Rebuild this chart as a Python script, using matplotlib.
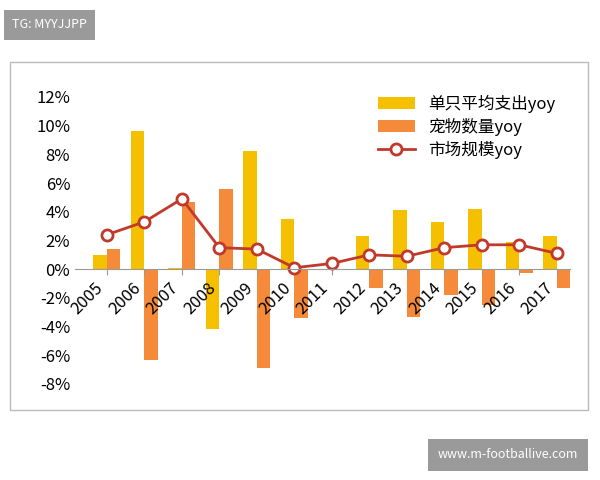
import matplotlib.pyplot as plt
import numpy as np
from matplotlib.patches import Rectangle

plt.rcParams['font.family'] = ['Noto Sans CJK SC', 'DejaVu Sans']

years = [str(y) for y in range(2005, 2018)]
avg_spend = [1.0, 9.6, 0.1, -4.2, 8.2, 3.5, 0.0, 2.3, 4.1, 3.3, 4.2, 1.9, 2.3]
pet_count = [1.4, -6.3, 4.7, 5.6, -6.9, -3.4, 0.0, -1.3, -3.3, -1.8, -2.5, -0.3, -1.3]
market = [2.4, 3.3, 4.9, 1.5, 1.4, 0.1, 0.4, 1.0, 0.9, 1.5, 1.7, 1.7, 1.1]
yticks = [-8, -6, -4, -2, 0, 2, 4, 6, 8, 10, 12]

fig = plt.figure(figsize=(6, 4.8), dpi=100)
fig.patches.append(Rectangle((10 / 600, 1 - 410 / 480), 578 / 600, 348 / 480,
                             transform=fig.transFigure, fill=False,
                             edgecolor="#bbbbbb", lw=1))
ax = fig.add_axes([0.125, 0.2, 0.825, 0.598])
x = np.arange(len(years))
w = 0.36
b1 = ax.bar(x - w / 2, avg_spend, w, color="#F5C000", label="单只平均支出yoy")
b2 = ax.bar(x + w / 2, pet_count, w, color="#F58A3A", label="宠物数量yoy")
l1, = ax.plot(x, market, color="#C0392B", lw=2, marker="o", ms=8,
              mfc="white", mec="#C0392B", mew=2, label="市场规模yoy")

ax.set_xlim(-0.85, 12.35)
ax.set_ylim(-8, 12)
ax.set_yticks(yticks)
ax.set_yticklabels([f"{v}%" for v in yticks], fontsize=12)
for s in ["top", "right", "left"]:
    ax.spines[s].set_visible(False)
ax.spines["bottom"].set_position(("data", 0))
ax.spines["bottom"].set_color("#999999")
ax.tick_params(axis="y", length=0)
ax.tick_params(axis="x", length=4, color="#999999")
ax.set_xticks(x)
ax.set_xticklabels(years, rotation=45, ha="right", fontsize=12)
ax.legend(handles=[b1, b2, l1], loc="upper right", frameon=False, fontsize=12,
          bbox_to_anchor=(1.0, 1.06), handlelength=2.2, labelspacing=0.3)

fig.text(12 / 600, 1 - 25 / 480, "TG: MYYJJPP", color="white", fontsize=9,
         va="center", bbox=dict(facecolor="#9a9a9a", edgecolor="none", pad=6))
fig.text(438 / 600, 1 - 455 / 480, "www.m-footballive.com", color="white",
         fontsize=9, va="center",
         bbox=dict(facecolor="#9a9a9a", edgecolor="none", pad=7))

fig.savefig("out.png", dpi=100)
